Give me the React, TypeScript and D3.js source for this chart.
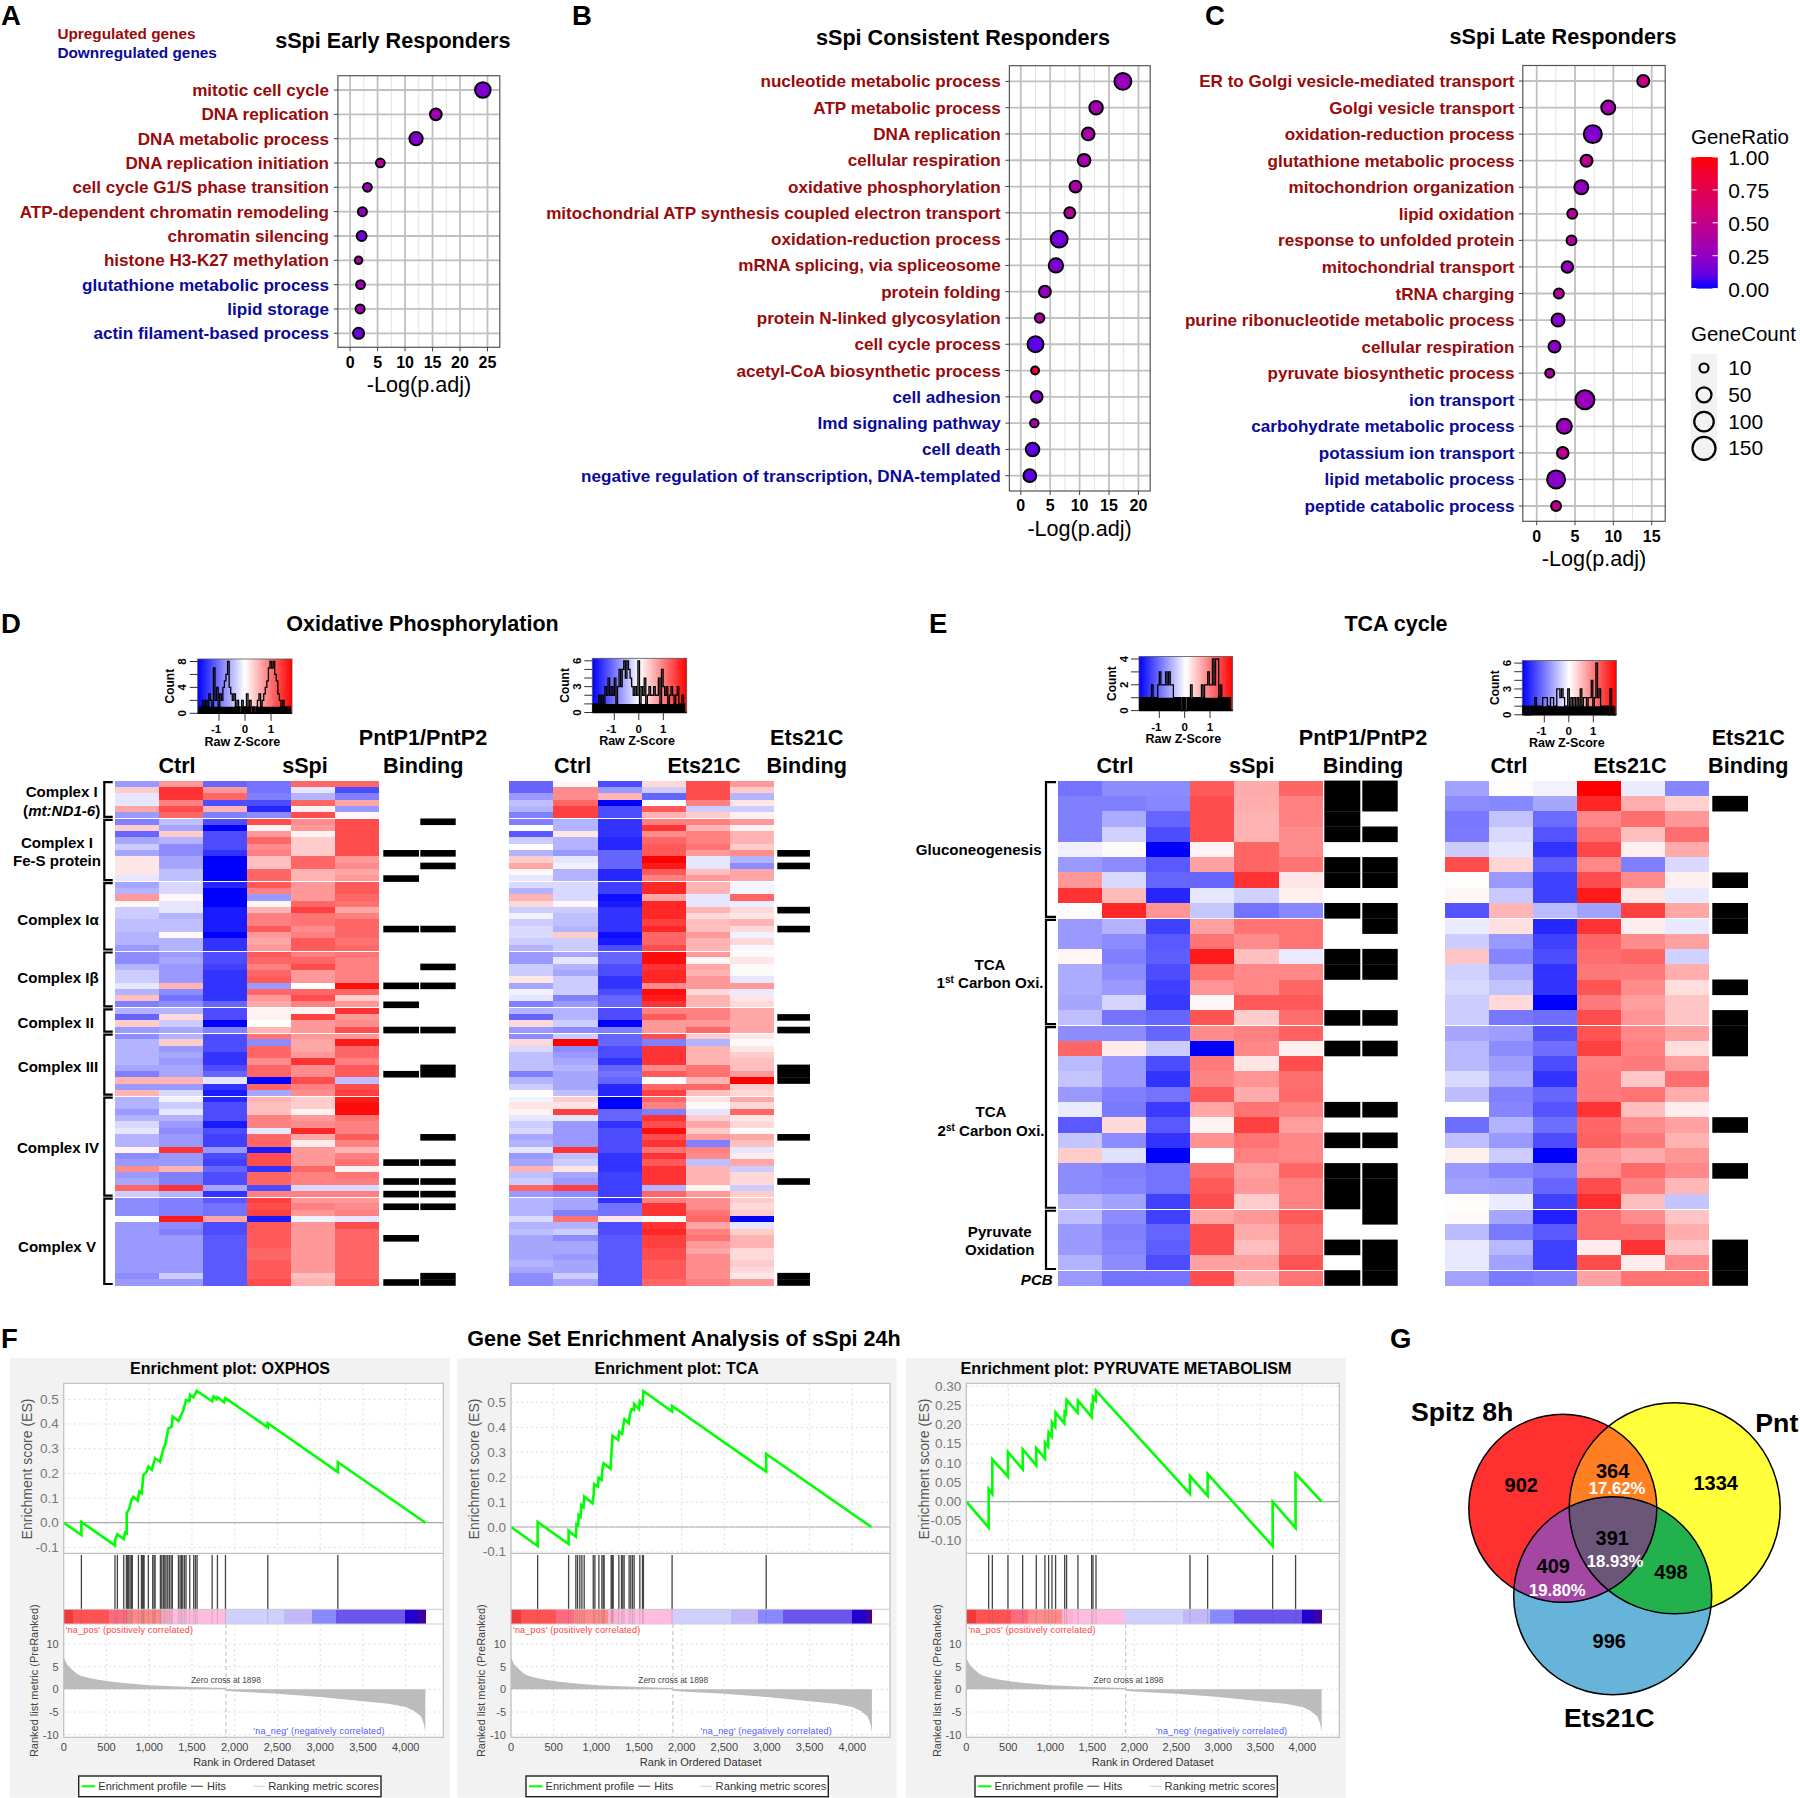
import React from "react";
import * as d3 from "d3";

const FONT = '"Liberation Sans", Arial, sans-serif';
const DARK_RED = "#990a0a";
const DARK_BLUE = "#0a0a99";

// ---------- Panels A-C: GO dot plots ----------
const aTerms = ["mitotic cell cycle","DNA replication","DNA metabolic process","DNA replication initiation","cell cycle G1/S phase transition","ATP-dependent chromatin remodeling","chromatin silencing","histone H3-K27 methylation","glutathione metabolic process","lipid storage","actin filament-based process"];
const aLog = [24.15,15.6,12,5.5,3.15,2.24,2.1,1.54,1.9,1.82,1.54];
const aCount = [55,24,35,9,9,10,14,5,9,10,20];
const aRatio = [0.18,0.33,0.2,0.42,0.3,0.25,0.15,0.38,0.3,0.32,0.13];
const aUpCount = 8;

const bTerms = ["nucleotide metabolic process","ATP metabolic process","DNA replication","cellular respiration","oxidative phosphorylation","mitochondrial ATP synthesis coupled electron transport","oxidation-reduction process","mRNA splicing, via spliceosome","protein folding","protein N-linked glycosylation","cell cycle process","acetyl-CoA biosynthetic process","cell adhesion","Imd signaling pathway","cell death","negative regulation of transcription, DNA-templated"];
const bLog = [17.36,12.8,11.46,10.76,9.3,8.33,6.53,5.97,4.1,3.2,2.5,2.43,2.7,2.3,2.0,1.53];
const bCount = [68,37,31,31,25,20,68,44,25,12,59,6,25,8,37,31];
const bRatio = [0.28,0.33,0.35,0.33,0.36,0.42,0.15,0.18,0.28,0.38,0.1,0.85,0.2,0.38,0.1,0.1];
const bUpCount = 12;

const cTerms = ["ER to Golgi vesicle-mediated transport","Golgi vesicle transport","oxidation-reduction process","glutathione metabolic process","mitochondrion organization","lipid oxidation","response to unfolded protein","mitochondrial transport","tRNA charging","purine ribonucleotide metabolic process","cellular respiration","pyruvate biosynthetic process","ion transport","carbohydrate metabolic process","potassium ion transport","lipid metabolic process","peptide catabolic process"];
const cLog = [13.9,9.33,7.32,6.5,5.82,4.64,4.54,4.0,2.89,2.78,2.32,1.7,6.29,3.6,3.4,2.53,2.53];
const cCount = [26,41,81,26,41,14,14,23,14,33,26,10,93,50,23,81,14];
const cRatio = [0.5,0.33,0.2,0.45,0.25,0.42,0.42,0.28,0.4,0.22,0.23,0.37,0.28,0.28,0.47,0.22,0.48];
const cUpCount = 12;

const ratioTicks = [1, 0.75, 0.5, 0.25, 0];
const countTicks = [10, 50, 100, 150];

// ---------- Panel D: heatmaps (80 genes) ----------
const d1Ctrl1 = [-4,2,-1,-1,3.5,-4,-5,2,-6,-3.5,-2,-3.5,1,1,1,-1,-3.5,-3,4,0.3,-2,-2,-2.5,-2.5,-3,-3,-4,-4.5,-4.5,-3,-2,-2,-1,-3,2.5,-5,-3,-6,2,-4,-4.5,-3,-3,-3,-3,-3.5,-5,3,-4,3,-3,-3,-4,-3,-1.5,-1,-3,-3,0.5,-4.5,-4,4.5,-4,-3.5,6,-2,-4.5,-4.5,-4.5,0,-4,-4,-4,-4,-4,-4,-4,-4,-4.5,-4];
const d1Ctrl2 = [4,8,8,5,7,6,-2.5,-3.5,2,-3,-4.5,-4.5,-3.5,-3.5,-2.5,-2.5,-1.5,-1.5,0.3,-1,-1,-3,-2.5,-2.5,0.2,-3,-3,-4,-3.5,-4,-4,-4,3,-4.5,-5.5,-4.5,-3,1.5,-2,-3.5,-3,2,-4,-3.5,-4,-3.5,-3.5,3,-4,-1.5,-0.5,-2,-1,-3,-4,-4.5,-4,-4,8,-4,-4,3,-5,-5,8,-3,-5,-5,-5,9,-4.5,-5,-4,-4,-4,-4,-4,-4,-2,-4];
const d1Ctrl3 = [-6,4,6,-7,3,-5,-7,-10,-7,-7,-7,-8,-10,-10,-10,-10,-8.5,-10,-10,-10,-9,-9,-9,-9,-10,-8,-8,-7,-7,-7.5,-8,-8,-8,-8,-8,-6,-7,-7,-10,-5,-7,-7,-7,-8,-8,-7,-6,-1,-8,-9,-8.5,-7,-7,-7,-9,-7,-7.5,-7.5,-4,-7,-7.5,-6,-7,-7,-3.5,-8,-6.5,-5.5,-5.5,3.5,-7,-7,-6.5,-6.5,-6.5,-6.5,-6.5,-6.5,-6.5,-6.5];
const d1Spi1 = [-5.5,-5.5,-5,-7,-8.5,-4.5,7,0.5,4,6,4.5,5,2.5,2.5,6,6,6.5,5,-4,0.3,3,5,5,6.5,4,3.5,4,6.5,6,5,6,6.5,-4,6,4,3.5,0.5,0.5,0,3,5.5,-4.5,6,6,4.5,6,6,-10,6,-3.5,3,2.5,2.5,5,5,-1,6,6,-9,7,7,-8,6,6,-7,5,7.5,7,7.5,-9,6.5,6.5,6.5,6.5,6,6,6.5,6.5,6.5,7];
const d1Spi2 = [6,-1,-3,6,0.5,7,4.5,4,0.5,2,2,2,6,6,3,3,4,4,4,6,7.5,5.5,5.5,4.5,5,6.5,6.5,5,6,7,4,4,0,6,7,5,0.5,7.5,4,4,4,3.5,3.5,4,8,4.5,4.5,7,5,4.5,2,2,0.5,4,4.5,8.5,3.5,0.8,4,4,4,6,5,5,-1.5,5,4,5,4,-0.5,4,4,4,4,4,4,4,4,2.5,3];
const d1Spi3 = [6,-7,-5,3.5,-4,0.3,7,7,7,7,7,7,4,4.5,3.5,4,6.5,6.5,6,5.5,3.5,5,6,6,6,5.5,6,5.5,5,5,5,5,9.5,6,2,4,8,4,4.5,7,4,9,6,6,5,6.5,6.5,-2.5,7,7.5,9,9.5,9.5,5.5,5,5,6.5,5,3,5,5.5,0.5,5.5,5,-1.5,5,4,4.5,5,-1,7,6,6,6,6,6,6,6,6,6.5];
const d2Ctrl1 = [-6,-6,-4,-2.5,-3,-5,-5,0,-6.5,-2,0,-3,2,3.5,0.3,-1,-1.5,-3,3,1.5,-2,-0.5,-2,-1.5,-1.5,-2,-3,-4,-4,-2,-2,1,-3.5,-0.5,-1,-5,-3,-6,1.5,-4,-4.5,1.5,-1.5,-2.5,-2.5,-2.5,-5,-3,-2,0,-0.5,1,0.5,-1,-2,-1.5,-3.5,-3,-1,-4,-3.5,3,-2.5,-2,6,-4,-3,-3,-3,-1.5,-3,-2.5,-3.5,-3.5,-3.5,-3.5,-3,-3.5,-4.5,-4.5];
const d2Ctrl2 = [0.3,4.5,4.5,6,7.5,7.5,-3,-3,1,-3,-3,-4,-1,-0.5,-3,-3,-1.5,-1.5,-1.5,0.3,-2,-2.5,-2.5,-3,2,-2,-2,-3.5,-1,-3,-3.5,-2,-2,-2,-5,-4,-3,-3,-2,-4.5,-2,10,-4.5,-4,-3.5,-3,-3.5,-3.5,-3.5,-2.5,2,1,7.5,-1,-4,-4,-4,-4,8,-2.5,-2,1,-3.5,-4,7.5,-4.5,-3.5,-3.5,-5,5.5,-3,-2,-4.5,-3.5,-3.5,-4,-3.5,-3.5,-2,-3.5];
const d2Ctrl3 = [-7,-4,3,-10,-7,-7,-8,-8,-8,-8.5,-8.5,-6,-6,-6,-8.5,-8.5,-7.5,-7.5,-9.5,-9,-8,-8,-8,-8,-9.5,-9,-7,-6,-6,-7,-7,-8,-8,-7,-6,-6,-7,-7,-10,-5,-6,-6,-7,-7,-8,-6,-5.5,-6,-8.5,-8.5,-10,-10,-6,-6,-8,-7,-7,-7,-7,-8,-8,-8,-7.5,-7.5,-7.5,-7.5,-8,-5.5,-5.5,1,-7,-7,-6.5,-6.5,-6.5,-6.5,-6.5,-6.5,-6.5,-6.5];
const d2Ets1 = [1.5,-2,-6,0,6.5,3,5,8,4.5,6,6.5,6.5,10,9,6.5,5,8.5,8.5,3.5,8.5,8.5,8.5,7.5,8.5,6,6,7,9.5,9.5,8,8.5,8.5,4.5,9.5,9,8,5,6.5,4,4,7,-5,8,8,8,4.5,6.5,0,6,7.5,6,5,-5,8,7,9.5,7,8,5.5,8,6.5,8,8,8,-3,6,5,8,8,0,8,8.5,7.5,7.5,7,7,6.5,6.5,6.5,6];
const d2Ets2 = [7,7,7,5,-2,2,5,3,5,5,5.5,4,-1,-1,2.5,4,3,3,-1,-1,3,1.5,2.5,2.5,4,3,3,4,0.3,3.5,3,4,4,1.5,3,3,5,5,4,6,2,-3,3,3,3,5.5,5.5,3,6,2.5,1,0.3,-1,2,3.5,2,4,-5,5,4.5,-2.5,3,3,3,0.5,4,4.5,4.5,5.5,6,3.5,5,5.5,4,3.5,4.5,4.5,4.5,4.5,5];
const d2Ets3 = [4,2,-3,1,-2,0.6,4,0.5,3,3,2,4.5,-3,-4.5,3.5,3.5,-0.4,-0.4,6,-0.7,1.5,1,3,1.5,-0.5,1.5,-0.3,0.2,1,0.2,0.2,-1,4,-0.8,1,1.5,3.5,3.5,3.5,3.5,1,0.2,1,2,2.5,2.5,4,10,2,1.5,3.5,1.5,6,1,1.5,0.2,3.5,2.5,-1,0.7,3.5,-2,1.5,1.5,-2,2,2,1.5,2,-10,-1,2,3,3,1.5,1.5,2,1.5,1,4];
const dGeneCount = 80;
const dGroups: [number, number][] = [[0,6],[6,16],[16,27],[27,36],[36,40],[40,50],[50,66],[66,80]];
const dGaps = [6,16,27,36,40,50,66];
const d1BindA = [11,15,23,32,35,39,46,60,63,65,67,72,79];
const d1BindB = [6,11,13,23,29,32,39,45,46,56,60,63,65,67,78,79];
const d2Bind = [11,13,20,23,37,39,45,46,47,56,63,78,79];

// ---------- Panel E: heatmaps (33 genes) ----------
const e1Ctrl1 = [-5.5,-5,-5,-5,-0.6,-4,4,8,0.1,-4,-4,0.4,-3.3,-3.3,-3.5,-2.5,-4.5,6,-2.7,-2.3,-4,-0.8,-6.5,-2.3,2,-4.5,-4.5,-3,-2.5,-4,-4,-3,-4];
const e1Ctrl2 = [-4.5,-5,-3.3,-1.8,0.2,-4.5,-1.5,2.7,8.5,-3,-4.5,-5,-4.5,-4,-1.7,-5.5,-4.5,0.8,-4,-4,-5,-5.2,1.5,-4.5,-1.2,-5,-4.8,-3.7,-4.5,-5,-4.8,-4.5,-5.5];
const e1Ctrl3 = [-4.5,-4.7,-6,-7,-10,-6.5,-6,-8.5,4.2,-7.5,-6.5,-6.3,-7,-7.5,-7.8,-6,-6,-2,-7,-8,-5.5,-7.7,-6.5,-8,-10,-5.5,-5.5,-7.5,-7.5,-6,-6.3,-7,-5.5];
const e1Spi1 = [6.5,7,7,7,0.5,3.7,-6,-1,-2.2,3.7,5.5,9,5.5,4.2,0.3,6.7,4.5,-10,5.2,4.8,6.5,3.5,0.5,4.3,0,5.7,6.5,7,3.5,7,7,3.7,7];
const e1Spi2 = [3.3,3.2,3,3,6,6,8,-1.8,-5.5,5.5,4.5,2.5,4.7,4.7,6.5,2,5,4.7,1,4.2,3.3,5.5,7.5,5.5,5,3.8,4,2,4,3.3,2.5,3.7,3];
const e1Spi3 = [6,5,5,4.5,4.5,5.5,1,0.6,-4.7,5.5,5.5,-0.8,4.7,6,6.5,5.7,6.2,0.6,7,5.7,5.8,5,3.8,4.7,4.7,6,5,5,6.5,5.7,5.7,6.7,5.5];
const e2Ctrl1 = [-3.7,-4.5,-5.3,-5.2,-2,7,0.1,0.3,-6.7,-0.8,-2,2.3,-1.8,-1.5,-2,-2,-3.5,-2.8,-2.8,-1.5,-2.6,0,-5.7,-2.5,0.6,-4,-3.7,0.1,0.2,-2.7,-0.9,-0.9,-3.6];
const e2Ctrl2 = [0.1,-4.7,-2.4,-1.5,-1,1.7,-4,-2.1,2.9,1.2,-4,-4.8,-3.2,-2.4,1.5,-5.3,-3.8,-4.5,-3.8,-3.3,-5,-4.8,-3,-4,-2,-4.8,-3.8,-0.8,-3.5,-5.2,-2.8,-3.7,-5.2];
const e2Ctrl3 = [-0.5,-3.5,-5.8,-6.7,-8,-6.3,-7.5,-7.5,-2.7,-8.5,-7.5,-7,-8,-8,-10,-5.7,-6.8,-5.7,-7,-8,-6,-6.7,-5.7,-7,-10,-5.3,-6,-7.5,-8.7,-6.5,-7.5,-7.5,-5];
const e2Ets1 = [10,8.5,4.7,5.7,7.2,4.7,7,9,-3.7,8,6,5.7,5.3,6.7,5.2,7,6.7,7.5,5,5.2,5.2,8,6,6.2,4,4.3,7,8.2,5.7,5.7,0.7,7,3.7];
const e2Ets2 = [-0.8,3.2,5.7,2.5,0.6,-5,4.5,1,7.5,0.7,4.5,6,5.2,4.5,3.8,4.2,4.7,5,5.2,2.2,5.5,2.5,4.5,5.2,3.3,5.8,4.8,2.6,4.5,5.7,8,0.7,5.5];
const e2Ets3 = [-4.8,1.8,4,5.7,3.3,-1.5,0.6,-0.9,3.5,-0.9,3.7,-1.8,3.2,1.3,2.3,2.3,3.7,1.3,3.8,5.7,3.2,0.7,3.7,3,4.2,4.7,2.8,-2.3,2.3,3.2,2.3,4.7,5.5];
const eGeneCount = 33;
const eGroups: [number, number][] = [[0,9],[9,16],[16,28],[28,32]];
const eGaps = [9,16,28,32];
const e1BindA = [0,1,2,3,5,6,8,11,12,15,17,21,23,25,26,27,30,32];
const e1BindB = [0,1,3,5,6,8,9,11,12,15,17,21,23,25,26,27,28,30,31,32];
const e2Bind = [1,6,8,9,13,15,16,17,22,25,30,31,32];

// ---------- colour-key histograms ----------
const histD1 = [0,1,1,2,1,2,1,3,2,1,7,2,4,1,3,2,4,5,6,8,4,3,2,3,1,2,1,0,2,1,1,3,1,2,0,1,0,1,2,3,1,2,3,4,5,7,8,7,8,6,5,3,2,1,2,1,1,0,1,0];
const histD2 = [1,1,1,1,2,1,2,1,3,2,4,2,3,2,4,1,3,5,3,5,6,4,6,5,4,3,2,3,2,6,1,3,2,4,1,2,3,2,2,3,2,2,4,1,5,3,2,3,1,2,3,2,1,2,3,1,1,2,1,1];
const histE1 = [1,1,1,1,1,1,1,1,2,1,1,1,2,3,2,2,2,3,2,3,2,2,1,1,1,1,1,0,1,1,0,1,1,2,1,1,1,1,1,1,2,1,2,2,3,2,2,4,2,4,4,1,2,1,1,1,1,1,1,1];
const histE2 = [1,1,0,1,0,1,1,1,2,1,1,1,1,2,2,2,1,1,2,2,1,1,3,3,2,3,2,1,1,3,1,2,1,2,1,2,1,3,1,2,2,1,2,2,4,1,2,6,2,3,1,1,1,1,1,0,3,1,0,1];

// ---------- Panel F: GSEA ----------
const oxRank = [0,207,207,600,600,628,702,718,737,737,768,792,815,866,885,913,932,971,990,1030,1069,1127,1166,1186,1225,1264,1275,1342,1400,1431,1470,1478,1517,1556,1736,1751,1790,1798,1876,1892,2387,2387,3206,3206,4232];
const oxES = [0,-0.05,0.003,-0.092,-0.07,-0.047,-0.066,-0.04,-0.043,0.038,0.058,0.092,0.105,0.089,0.126,0.119,0.193,0.207,0.227,0.214,0.261,0.247,0.301,0.315,0.382,0.389,0.43,0.412,0.457,0.497,0.493,0.518,0.508,0.534,0.492,0.511,0.5,0.509,0.488,0.505,0.386,0.403,0.205,0.245,0];
const oxHits = [207,600,628,702,733,745,760,776,792,803,874,909,920,932,940,990,1041,1057,1069,1131,1147,1166,1182,1197,1217,1236,1256,1271,1342,1361,1377,1392,1412,1431,1474,1521,1541,1560,1736,1798,1892,2387,3206];
const tcaRank = [0,312,312,675,675,760,768,788,792,815,823,850,858,955,971,975,1018,1026,1061,1069,1084,1166,1178,1190,1256,1268,1303,1314,1330,1381,1392,1412,1439,1443,1501,1509,1541,1552,1888,1888,2991,2991,4224];
const tcaES = [0,-0.076,0.02,-0.068,-0.015,-0.039,0.012,0.008,0.048,0.041,0.088,0.079,0.122,0.095,0.135,0.172,0.162,0.198,0.189,0.226,0.255,0.234,0.302,0.366,0.349,0.382,0.373,0.405,0.432,0.416,0.449,0.472,0.469,0.493,0.472,0.504,0.493,0.545,0.463,0.485,0.222,0.293,0];
const tcaHits = [312,675,760,780,807,831,858,964,983,1030,1065,1081,1092,1174,1182,1190,1197,1264,1295,1310,1326,1384,1404,1424,1443,1510,1541,1552,1888,2991];
const pyrRank = [0,266,266,310,310,496,496,671,671,833,833,936,936,972,980,1016,1020,1059,1063,1167,1171,1187,1194,1325,1329,1492,1492,1504,1508,1540,1544,2663,2663,2873,2873,3647,3647,3920,3920,4230];
const pyrES = [0,-0.067,0.033,0.02,0.11,0.065,0.129,0.084,0.136,0.094,0.139,0.112,0.153,0.143,0.18,0.169,0.206,0.194,0.231,0.203,0.238,0.231,0.264,0.231,0.262,0.22,0.248,0.245,0.271,0.262,0.288,0.02,0.067,0.015,0.072,-0.115,0,-0.068,0.073,0];
const pyrHits = [266,310,496,671,833,936,980,1020,1063,1171,1194,1329,1492,1508,1544,2663,2873,3647,3920];
const metricRank = [0,25,50,100,150,200,300,400,540,700,1000,1500,1897,1898,2000,2500,3000,3500,3800,4000,4100,4180,4210,4230];
const metricVal = [7.1,6.0,5.2,4.3,3.5,3.0,2.5,2.1,1.75,1.4,0.9,0.5,0.3,-0.3,-0.45,-0.95,-1.7,-2.6,-3.2,-3.9,-4.8,-6,-7.4,-9.4];
const stripEdges = [0,113,530,737,1139,1271,1895,2578,2900,3182,3993,4157,4230];
const stripColors = ["#ee3a3a","#ff5252","#ff6a80","#ff8a8a","#ffb0d0","#ffbbe0","#d0d0ff","#c0b8f8","#8888ff","#6a55ee","#2200cc","#440099"];
const rankTicks = [0,500,1000,1500,2000,2500,3000,3500,4000];
const metricTicks = [10,5,0,-5,-10];
const esTicksA = [0.5,0.4,0.3,0.2,0.1,0,-0.1];
const esTicksB = [0.3,0.25,0.2,0.15,0.1,0.05,0,-0.05,-0.1];

// ---------- Panel G: Venn ----------
const vennCounts = ["902","1334","996","364","409","498","391"];
const vennPercents = ["17.62%","19.80%","18.93%"];
const vennSets = ["Spitz 8h","Pnt","Ets21C"];

// ---------- shared helpers ----------
const ratioColor = d3.scaleSequential(d3.interpolateLab("#0000ff", "#ff0000")).domain([0, 1]);
const sizeScale = d3.scalePow().exponent(0.5).domain([10, 150]).range([5.5, 12.5]);
const heatColor = d3.scaleLinear<string>().domain([-10, 0, 10]).range(["#0000ff", "#ffffff", "#ff0000"]).clamp(true);

type TProps = React.SVGProps<SVGTextElement>;
const T = (p: TProps & { children?: React.ReactNode }) => <text fontFamily={FONT} {...p} />;

function DotPlot(p: {
  title: string; titleX: number; titleY: number;
  terms: string[]; log: number[]; count: number[]; ratio: number[]; upCount: number;
  left: number; right: number; top: number; bottom: number;
  x0: number; xMax: number; xMaxPx: number; yFirst: number; yLast: number;
  ticks: number[]; labelRight: number; tickY: number; axisX: number; axisY: number;
}) {
  const x = d3.scaleLinear().domain([0, p.xMax]).range([p.x0, p.xMaxPx]);
  const y = d3.scalePoint<number>().domain(p.terms.map((_, i) => i)).range([p.yFirst, p.yLast]);
  const step = p.ticks[1] - p.ticks[0];
  const minor = p.ticks.map((t) => t + step / 2).filter((v) => x(v) < p.right);
  return (
    <g>
      <T x={p.titleX} y={p.titleY} textAnchor="middle" fontSize={21.6} fontWeight="bold">{p.title}</T>
      {minor.map((m) => <line key={m} x1={x(m)} x2={x(m)} y1={p.top} y2={p.bottom} stroke="#e2e2e2" strokeWidth={1} />)}
      {p.ticks.map((t) => <line key={t} x1={x(t)} x2={x(t)} y1={p.top} y2={p.bottom} stroke="#c0c0c0" strokeWidth={1.8} />)}
      {p.terms.map((_, i) => <line key={i} x1={p.left} x2={p.right} y1={y(i)} y2={y(i)} stroke="#c0c0c0" strokeWidth={1.8} />)}
      <rect x={p.left} y={p.top} width={p.right - p.left} height={p.bottom - p.top} fill="none" stroke="#555" strokeWidth={1.2} />
      {p.terms.map((term, i) => (
        <g key={term}>
          <line x1={p.left - 4} x2={p.left} y1={y(i)} y2={y(i)} stroke="#444" strokeWidth={1} />
          <T x={p.labelRight} y={(y(i) as number) + 6} textAnchor="end" fontSize={17.1} fontWeight="bold" fill={i < p.upCount ? DARK_RED : DARK_BLUE}>{term}</T>
        </g>
      ))}
      {p.terms.map((_, i) => (
        <circle key={i} cx={x(p.log[i])} cy={y(i)} r={sizeScale(p.count[i]) - 1} fill={ratioColor(p.ratio[i])} stroke="#000" strokeWidth={2} />
      ))}
      {p.ticks.map((t) => (
        <g key={t}>
          <line x1={x(t)} x2={x(t)} y1={p.bottom} y2={p.bottom + 4} stroke="#444" strokeWidth={1} />
          <T x={x(t)} y={p.tickY} textAnchor="middle" fontSize={16} fontWeight="bold">{t}</T>
        </g>
      ))}
      <T x={p.axisX} y={p.axisY} textAnchor="middle" fontSize={21.6}>-Log(p.adj)</T>
    </g>
  );
}

function DotLegend() {
  const barY = d3.scaleLinear().domain([0, 1]).range([288.6, 157]);
  const stops = d3.range(0, 1.001, 0.1);
  const labY = d3.scaleLinear().domain([0, 1]).range([290.4, 158]);
  const rowY = d3.scalePoint<number>().domain(countTicks).range([368, 448.4]);
  return (
    <g>
      <defs>
        <linearGradient id="ratioGrad" x1="0" x2="0" y1="1" y2="0">
          {stops.map((s) => <stop key={s} offset={s} stopColor={ratioColor(s)} />)}
        </linearGradient>
      </defs>
      <T x={1691} y={144} fontSize={20.5}>GeneRatio</T>
      <rect x={1691.3} y={barY(1)} width={26.5} height={barY(0) - barY(1)} fill="url(#ratioGrad)" />
      {ratioTicks.map((t) => (
        <g key={t}>
          <line x1={1691.3} x2={1696.5} y1={barY(t)} y2={barY(t)} stroke="#fff" strokeWidth={1} />
          <line x1={1712.6} x2={1717.8} y1={barY(t)} y2={barY(t)} stroke="#fff" strokeWidth={1} />
          <T x={1728.2} y={labY(t) + 6.5} fontSize={21}>{t.toFixed(2)}</T>
        </g>
      ))}
      <T x={1691} y={341} fontSize={20.5}>GeneCount</T>
      <rect x={1691} y={354} width={26} height={107} fill="#f2f2f2" />
      {countTicks.map((c) => (
        <g key={c}>
          <circle cx={1704} cy={rowY(c)} r={sizeScale(c) - 1} fill="#f2f2f2" stroke="#000" strokeWidth={2.2} />
          <T x={1728.2} y={(rowY(c) as number) + 7} fontSize={21}>{c}</T>
        </g>
      ))}
    </g>
  );
}

function Heatmap(p: { columns: number[][]; left: number; right: number; top: number; bottom: number; n: number; gaps: number[] }) {
  const x = d3.scaleBand<number>().domain(p.columns.map((_, i) => i)).range([p.left, p.right]);
  const y = d3.scaleLinear().domain([0, p.n]).range([p.top, p.bottom]);
  return (
    <g shapeRendering="crispEdges">
      {p.columns.map((col, c) => col.map((v, r) => (
        <rect key={c + "-" + r} x={x(c)} y={y(r)} width={x.bandwidth() + 0.4} height={y(r + 1) - y(r) + 0.4} fill={heatColor(v)} />
      )))}
      {p.gaps.map((g) => <line key={g} x1={p.left} x2={p.right + 0.5} y1={y(g)} y2={y(g)} stroke="#fff" strokeWidth={1} />)}
    </g>
  );
}

function Binding(p: { rows: number[]; left: number; right: number; top: number; bottom: number; n: number }) {
  const y = d3.scaleLinear().domain([0, p.n]).range([p.top, p.bottom]);
  return (
    <g>
      {p.rows.map((r) => <rect key={r} x={p.left} y={y(r)} width={p.right - p.left} height={y(r + 1) - y(r) + 0.3} fill="#000" />)}
    </g>
  );
}

function Brackets(p: { groups: [number, number][]; spine: number; tip: number; top: number; bottom: number; n: number }) {
  const y = d3.scaleLinear().domain([0, p.n]).range([p.top, p.bottom]);
  return (
    <g fill="none" stroke="#000" strokeWidth={2.2}>
      {p.groups.map(([a, b]) => (
        <path key={a} d={`M${p.tip},${y(a) + 1.5}H${p.spine}V${y(b) - 1.5}H${p.tip}`} />
      ))}
    </g>
  );
}

function ColorKey(p: { id: string; left: number; right: number; top: number; bottom: number; tickLo: number; tickHi: number; hist: number[]; yMax: number; yTicks: number[] }) {
  const x = d3.scaleLinear().domain([-1, 1]).range([p.tickLo, p.tickHi]);
  const y = d3.scaleLinear().domain([0, p.yMax]).range([p.bottom, p.top + 2.5]);
  const bx = d3.scaleLinear().domain([0, p.hist.length]).range([p.left, p.right]);
  const line = d3.line<number>().x((_, i) => bx(i)).y((d) => y(d)).curve(d3.curveStepAfter);
  const base = d3.area<number>().x((_, i) => bx(i)).y0(p.bottom).y1((d) => y(Math.min(d, 1))).curve(d3.curveStepAfter);
  const labelled = p.yTicks.filter((_, i) => i === 0 || i === p.yTicks.length - 1 || i === (p.yTicks.length - 1) / 2);
  return (
    <g>
      <defs>
        <linearGradient id={p.id}>
          <stop offset="0" stopColor="#0000ff" />
          <stop offset="0.5" stopColor="#ffffff" />
          <stop offset="1" stopColor="#ff0000" />
        </linearGradient>
      </defs>
      <rect x={p.left} y={p.top} width={p.right - p.left} height={p.bottom - p.top} fill={`url(#${p.id})`} stroke="#555" strokeWidth={0.8} />
      <path d={base(p.hist) as string} fill="#000" />
      <path d={line(p.hist) as string} fill="none" stroke="#000" strokeWidth={1.3} />
      <line x1={p.left} x2={p.right} y1={p.bottom} y2={p.bottom} stroke="#000" strokeWidth={1.5} />
      {p.yTicks.map((t) => <line key={t} x1={p.left - 8} x2={p.left} y1={y(t)} y2={y(t)} stroke="#333" strokeWidth={1} />)}
      {labelled.map((t) => (
        <T key={t} transform={`translate(${p.left - 11.5},${y(t)}) rotate(-90)`} textAnchor="middle" fontSize={11.5} fontWeight="bold">{t}</T>
      ))}
      <T transform={`translate(${p.left - 23.5},${(p.top + p.bottom) / 2}) rotate(-90)`} textAnchor="middle" fontSize={12} fontWeight="bold">Count</T>
      {[-1, 0, 1].map((t) => (
        <g key={t}>
          <line x1={x(t)} x2={x(t)} y1={p.bottom} y2={p.bottom + 7.5} stroke="#333" strokeWidth={1} />
          <T x={x(t) - (t < 0 ? 3 : 0)} y={p.bottom + 20} textAnchor="middle" fontSize={11.5} fontWeight="bold">{t}</T>
        </g>
      ))}
      <T x={(p.left + p.right) / 2 - 2.5} y={p.bottom + 32.5} textAnchor="middle" fontSize={12.5} fontWeight="bold">Raw Z-Score</T>
    </g>
  );
}

const Head = (p: { x: number; y: number; children: React.ReactNode }) => (
  <T x={p.x} y={p.y} textAnchor="middle" fontSize={21.6} fontWeight="bold">{p.children}</T>
);

const Lbl = (p: { x: number; y: number; anchor?: string; italic?: boolean; children: React.ReactNode }) => (
  <T x={p.x} y={p.y} textAnchor={(p.anchor || "middle") as any} fontSize={15.1} fontWeight="bold" fontStyle={p.italic ? "italic" : "normal"}>{p.children}</T>
);

function Gsea(p: {
  title: string; titleSize: number; titleX: number; bgL: number; bgR: number; left: number; right: number; x4000: number;
  esRefVal: number; esRefY: number; es0: number; esTicks: number[]; esDigits: number;
  rank: number[]; es: number[]; hits: number[]; esTitleX: number; metricTitleX: number;
  xLabelX: number; legendX: number;
}) {
  const TOP = 1383.3, ESB = 1553.3, HIT0 = 1555, STRIP0 = 1609.3, STRIP1 = 1624, BOT = 1737.3;
  const x = d3.scaleLinear().domain([0, 4000]).range([p.left, p.x4000]);
  const yE = d3.scaleLinear().domain([0, p.esRefVal]).range([p.es0, p.esRefY]);
  const yM = d3.scaleLinear().domain([-10, 10]).range([1734.7, 1644]);
  const esLine = d3.line<number>().x((r) => x(r)).y((_, i) => yE(p.es[i]));
  const metricArea = d3.area<number>().x((r) => x(r)).y0(yM(0)).y1((_, i) => yM(metricVal[i]));
  const dash = "2 3";
  return (
    <g>
      <rect x={p.bgL} y={1358.3} width={p.bgR - p.bgL} height={439.4} fill="#f2f2f2" />
      <T x={p.titleX} y={1374.3} textAnchor="middle" fontSize={p.titleSize} fontWeight="bold">{p.title}</T>
      <rect x={p.left} y={TOP} width={p.right - p.left} height={BOT - TOP} fill="#fff" />
      {rankTicks.map((t) => (
        <g key={t}>
          <line x1={x(t)} x2={x(t)} y1={TOP} y2={ESB} stroke="#ddd" strokeDasharray={dash} />
          <line x1={x(t)} x2={x(t)} y1={STRIP1} y2={BOT} stroke="#ddd" strokeDasharray={dash} />
        </g>
      ))}
      {p.esTicks.map((t) => <line key={t} x1={p.left} x2={p.right} y1={yE(t)} y2={yE(t)} stroke="#ddd" strokeDasharray={dash} />)}
      {metricTicks.map((t) => <line key={t} x1={p.left} x2={p.right} y1={yM(t)} y2={yM(t)} stroke="#ddd" strokeDasharray={dash} />)}
      <line x1={p.left} x2={p.right} y1={yE(0)} y2={yE(0)} stroke="#aaa" strokeWidth={1.2} />
      <path d={esLine(p.rank) as string} fill="none" stroke="#00ff00" strokeWidth={2.6} strokeLinejoin="miter" />
      {stripColors.map((c, i) => (
        <rect key={i} x={x(stripEdges[i])} y={STRIP0} width={x(stripEdges[i + 1]) - x(stripEdges[i]) + 0.3} height={STRIP1 - STRIP0} fill={c} shapeRendering="crispEdges" />
      ))}
      {p.hits.map((h) => (
        <g key={h}>
          <line x1={x(h)} x2={x(h)} y1={HIT0} y2={STRIP0} stroke="#444" strokeWidth={1.3} />
          <line x1={x(h)} x2={x(h)} y1={STRIP0} y2={STRIP1} stroke="#555" strokeWidth={1} opacity={0.2} />
        </g>
      ))}
      <path d={metricArea(metricRank) as string} fill="#bcbcbc" />
      <line x1={x(1898)} x2={x(1898)} y1={STRIP1} y2={BOT} stroke="#bbb" strokeDasharray="4 3" />
      <T x={p.left + 2} y={1632.7} fontSize={9} fill="#ff4040" letterSpacing={0.2}>'na_pos' (positively correlated)</T>
      <T x={p.left + 189.6} y={1733.7} fontSize={9} fill="#5555ff" letterSpacing={0.2}>'na_neg' (negatively correlated)</T>
      <T x={p.left + 127.3} y={1683.3} fontSize={8.4} fill="#444">Zero cross at 1898</T>
      <rect x={p.left} y={TOP} width={p.right - p.left} height={BOT - TOP} fill="none" stroke="#c0c0c0" strokeWidth={1.2} />
      <line x1={p.left} x2={p.right} y1={ESB} y2={ESB} stroke="#c0c0c0" strokeWidth={1.2} />
      <line x1={p.left} x2={p.right} y1={STRIP0} y2={STRIP0} stroke="#ccc" />
      <line x1={p.left} x2={p.right} y1={STRIP1} y2={STRIP1} stroke="#ccc" />
      {p.esTicks.map((t) => (
        <T key={t} x={p.left - 5} y={yE(t) + 4.5} textAnchor="end" fontSize={13.5} fill="#777">{t.toFixed(p.esDigits)}</T>
      ))}
      {metricTicks.map((t) => (
        <T key={t} x={p.left - 5} y={yM(t) + 4} textAnchor="end" fontSize={11} fill="#555">{t}</T>
      ))}
      {rankTicks.map((t) => (
        <T key={t} x={x(t)} y={1751} textAnchor="middle" fontSize={11} fill="#444">{d3.format(",")(t)}</T>
      ))}
      <T transform={`translate(${p.esTitleX},1469) rotate(-90)`} textAnchor="middle" fontSize={14} fill="#555">Enrichment score (ES)</T>
      <T transform={`translate(${p.metricTitleX},1680.7) rotate(-90)`} textAnchor="middle" fontSize={11} fill="#444">Ranked list metric (PreRanked)</T>
      <T x={p.xLabelX} y={1765.7} textAnchor="middle" fontSize={11} fill="#333">Rank in Ordered Dataset</T>
      <g transform={`translate(${p.legendX},0)`}>
        <rect x={0} y={1776} width={302.3} height={20.7} fill="#fff" stroke="#222" strokeWidth={1.4} />
        <line x1={3} x2={16.5} y1={1786.3} y2={1786.3} stroke="#00ff00" strokeWidth={2} />
        <T x={19.6} y={1789.6} fontSize={11} fill="#333">Enrichment profile</T>
        <line x1={112.3} x2={124.3} y1={1786.3} y2={1786.3} stroke="#666" strokeWidth={1.3} />
        <T x={128.3} y={1789.6} fontSize={11} fill="#333">Hits</T>
        <line x1={174.3} x2={186.3} y1={1786.3} y2={1786.3} stroke="#ddd" strokeWidth={1.3} />
        <T x={189.6} y={1789.6} fontSize={11.2} fill="#333">Ranking metric scores</T>
      </g>
    </g>
  );
}

function Venn() {
  const A = { cx: 1562.8, cy: 1508.3, r: 94 };
  const B = { cx: 1674.7, cy: 1508.3, r: 105.5 };
  const C = { cx: 1612.7, cy: 1595.7, r: 99 };
  const cir = (c: any, extra: any = {}) => <circle cx={c.cx} cy={c.cy} r={c.r} {...extra} />;
  const N = (p: { x: number; y: number; children: React.ReactNode; white?: boolean }) => (
    <T x={p.x} y={p.y} textAnchor="middle" fontWeight="bold" fontSize={p.white ? 16.7 : 20} fill={p.white ? "#fff" : "#000"}>{p.children}</T>
  );
  return (
    <g>
      <defs>
        <clipPath id="vA">{cir(A)}</clipPath>
        <clipPath id="vB">{cir(B)}</clipPath>
        <clipPath id="vC">{cir(C)}</clipPath>
      </defs>
      {cir(A, { fill: "#ff3030" })}
      {cir(B, { fill: "#ffff3c" })}
      {cir(C, { fill: "#67b4db" })}
      <g clipPath="url(#vA)">{cir(B, { fill: "#ff7f22" })}</g>
      <g clipPath="url(#vA)">{cir(C, { fill: "#a347a3" })}</g>
      <g clipPath="url(#vB)">{cir(C, { fill: "#22b14c" })}</g>
      <g clipPath="url(#vA)"><g clipPath="url(#vB)">{cir(C, { fill: "#6b5579" })}</g></g>
      {[A, B, C].map((c, i) => <React.Fragment key={i}>{cir(c, { fill: "none", stroke: "#000", strokeWidth: 1.5 })}</React.Fragment>)}
      <N x={1521.3} y={1491.7}>{vennCounts[0]}</N>
      <N x={1715.7} y={1490}>{vennCounts[1]}</N>
      <N x={1609.3} y={1648.3}>{vennCounts[2]}</N>
      <N x={1612.7} y={1477.7}>{vennCounts[3]}</N>
      <N x={1553.3} y={1573.3}>{vennCounts[4]}</N>
      <N x={1671} y={1579.3}>{vennCounts[5]}</N>
      <N x={1612.3} y={1545}>{vennCounts[6]}</N>
      <N x={1617} y={1494} white>{vennPercents[0]}</N>
      <N x={1557.3} y={1596} white>{vennPercents[1]}</N>
      <N x={1615} y={1567.3} white>{vennPercents[2]}</N>
      <T x={1411} y={1421} fontSize={26.7} fontWeight="bold">{vennSets[0]}</T>
      <T x={1755.3} y={1431.7} fontSize={26.7} fontWeight="bold">{vennSets[1]}</T>
      <T x={1609.3} y={1726.7} textAnchor="middle" fontSize={26.7} fontWeight="bold">{vennSets[2]}</T>
    </g>
  );
}

const HM_TOP = 780.6;
const HM_BOT = 1285.5;

export default function App() {
  return (
    <svg width={1800} height={1798} viewBox="0 0 1800 1798" style={{ position: "absolute", left: 0, top: 0, background: "#fff" }}>
      {/* panel letters */}
      {[["A",1,25],["B",572,25],["C",1205,25],["D",1,633],["E",929,633],["F",1,1348],["G",1390,1348]].map(([s, x, y]) => (
        <T key={s as string} x={x as number} y={y as number} fontSize={27.5} fontWeight="bold">{s}</T>
      ))}

      <T x={57.4} y={39.3} fontSize={15.35} fontWeight="bold" fill={DARK_RED}>Upregulated genes</T>
      <T x={57.4} y={58} fontSize={15.35} fontWeight="bold" fill={DARK_BLUE}>Downregulated genes</T>

      <DotPlot title="sSpi Early Responders" titleX={392.8} titleY={48.3} terms={aTerms} log={aLog} count={aCount} ratio={aRatio} upCount={aUpCount}
        left={337.9} right={499.8} top={75.7} bottom={347.3} x0={350.1} xMax={25} xMaxPx={487.5} yFirst={90} yLast={333.3}
        ticks={[0,5,10,15,20,25]} labelRight={329} tickY={367.7} axisX={419} axisY={391.7} />
      <DotPlot title="sSpi Consistent Responders" titleX={963} titleY={44.6} terms={bTerms} log={bLog} count={bCount} ratio={bRatio} upCount={bUpCount}
        left={1009.4} right={1150.2} top={65.7} bottom={491} x0={1020.8} xMax={20} xMaxPx={1138.4} yFirst={81.4} yLast={475.7}
        ticks={[0,5,10,15,20]} labelRight={1000.8} tickY={510.7} axisX={1079.6} axisY={535.7} />
      <DotPlot title="sSpi Late Responders" titleX={1563} titleY={43.7} terms={cTerms} log={cLog} count={cCount} ratio={cRatio} upCount={cUpCount}
        left={1522.8} right={1665.2} top={65.5} bottom={521.3} x0={1536.7} xMax={15} xMaxPx={1651.7} yFirst={81} yLast={506}
        ticks={[0,5,10,15]} labelRight={1514.5} tickY={542.4} axisX={1594} axisY={566} />
      <DotLegend />

      {/* Panel D */}
      <T x={422.5} y={630.5} textAnchor="middle" fontSize={21.5} fontWeight="bold">Oxidative Phosphorylation</T>
      <ColorKey id="kD1" left={197.7} right={292} top={659} bottom={713.3} tickLo={219} tickHi={271} hist={histD1} yMax={8} yTicks={[0,2,4,6,8]} />
      <ColorKey id="kD2" left={592.3} right={686.7} top={658.3} bottom={712.5} tickLo={614.3} tickHi={663.3} hist={histD2} yMax={6} yTicks={[0,1,2,3,4,5,6]} />
      <Head x={177} y={772.5}>Ctrl</Head>
      <Head x={305} y={772.5}>sSpi</Head>
      <Head x={423} y={745}>PntP1/PntP2</Head>
      <Head x={423.3} y={772.5}>Binding</Head>
      <Head x={572.7} y={772.5}>Ctrl</Head>
      <Head x={704} y={772.5}>Ets21C</Head>
      <Head x={806.7} y={745}>Ets21C</Head>
      <Head x={806.7} y={772.5}>Binding</Head>
      <Brackets groups={dGroups} spine={104.3} tip={112.7} top={HM_TOP} bottom={HM_BOT} n={dGeneCount} />
      <Heatmap columns={[d1Ctrl1,d1Ctrl2,d1Ctrl3,d1Spi1,d1Spi2,d1Spi3]} left={115} right={379} top={HM_TOP} bottom={HM_BOT} n={dGeneCount} gaps={dGaps} />
      <Binding rows={d1BindA} left={383.3} right={419} top={HM_TOP} bottom={HM_BOT} n={dGeneCount} />
      <Binding rows={d1BindB} left={420.3} right={455.7} top={HM_TOP} bottom={HM_BOT} n={dGeneCount} />
      <Heatmap columns={[d2Ctrl1,d2Ctrl2,d2Ctrl3,d2Ets1,d2Ets2,d2Ets3]} left={509.3} right={774} top={HM_TOP} bottom={HM_BOT} n={dGeneCount} gaps={dGaps} />
      <Binding rows={d2Bind} left={777.3} right={810} top={HM_TOP} bottom={HM_BOT} n={dGeneCount} />
      <Lbl x={61.7} y={797.4}>Complex I</Lbl>
      <Lbl x={61.7} y={815.8}>(<tspan fontStyle="italic">mt:ND1-6</tspan>)</Lbl>
      <Lbl x={57} y={848}>Complex I</Lbl>
      <Lbl x={57} y={866.3}>Fe-S protein</Lbl>
      <Lbl x={58} y={925}>Complex Iα</Lbl>
      <Lbl x={58} y={983}>Complex Iβ</Lbl>
      <Lbl x={55.7} y={1027.5}>Complex II</Lbl>
      <Lbl x={58} y={1071.5}>Complex III</Lbl>
      <Lbl x={58} y={1153}>Complex IV</Lbl>
      <Lbl x={57} y={1252}>Complex V</Lbl>

      {/* Panel E */}
      <T x={1396} y={630.5} textAnchor="middle" fontSize={21.5} fontWeight="bold">TCA cycle</T>
      <ColorKey id="kE1" left={1139} right={1232.7} top={656.5} bottom={710.6} tickLo={1159.3} tickHi={1210} hist={histE1} yMax={4} yTicks={[0,1,2,3,4]} />
      <ColorKey id="kE2" left={1522.3} right={1616.3} top={660.6} bottom={714.8} tickLo={1544.3} tickHi={1593.3} hist={histE2} yMax={6} yTicks={[0,1,2,3,4,5,6]} />
      <Head x={1115} y={772.5}>Ctrl</Head>
      <Head x={1251.7} y={772.5}>sSpi</Head>
      <Head x={1363} y={745}>PntP1/PntP2</Head>
      <Head x={1363} y={772.5}>Binding</Head>
      <Head x={1509} y={772.5}>Ctrl</Head>
      <Head x={1630} y={772.5}>Ets21C</Head>
      <Head x={1748.3} y={745}>Ets21C</Head>
      <Head x={1748.3} y={772.5}>Binding</Head>
      <Brackets groups={eGroups} spine={1046} tip={1056} top={HM_TOP} bottom={HM_BOT - 15} n={eGeneCount - 1} />
      <Heatmap columns={[e1Ctrl1,e1Ctrl2,e1Ctrl3,e1Spi1,e1Spi2,e1Spi3]} left={1057.7} right={1322.7} top={HM_TOP} bottom={HM_BOT} n={eGeneCount} gaps={eGaps} />
      <Binding rows={e1BindA} left={1324.3} right={1360.3} top={HM_TOP} bottom={HM_BOT} n={eGeneCount} />
      <Binding rows={e1BindB} left={1362.3} right={1397.7} top={HM_TOP} bottom={HM_BOT} n={eGeneCount} />
      <Heatmap columns={[e2Ctrl1,e2Ctrl2,e2Ctrl3,e2Ets1,e2Ets2,e2Ets3]} left={1445} right={1709} top={HM_TOP} bottom={HM_BOT} n={eGeneCount} gaps={eGaps} />
      <Binding rows={e2Bind} left={1712.3} right={1748} top={HM_TOP} bottom={HM_BOT} n={eGeneCount} />
      <Lbl x={978.7} y={855}>Gluconeogenesis</Lbl>
      <Lbl x={990} y={969.6}>TCA</Lbl>
      <Lbl x={990} y={988}>1<tspan fontSize={10} dy={-5}>st</tspan><tspan dy={5}> Carbon Oxi.</tspan></Lbl>
      <Lbl x={991} y={1117.4}>TCA</Lbl>
      <Lbl x={991} y={1136}>2<tspan fontSize={10} dy={-5}>st</tspan><tspan dy={5}> Carbon Oxi.</tspan></Lbl>
      <Lbl x={999.7} y={1236.8}>Pyruvate</Lbl>
      <Lbl x={999.7} y={1254.7}>Oxidation</Lbl>
      <Lbl x={1052.7} y={1284.6} anchor="end" italic>PCB</Lbl>

      {/* Panel F */}
      <T x={684} y={1346} textAnchor="middle" fontSize={21.6} fontWeight="bold">Gene Set Enrichment Analysis of sSpi 24h</T>
      <Gsea title="Enrichment plot: OXPHOS" titleSize={16} titleX={230} bgL={10} bgR={450} left={63.7} right={443.3} x4000={405.7}
        esRefVal={0.5} esRefY={1399.3} es0={1522.7} esTicks={esTicksA} esDigits={1} rank={oxRank} es={oxES} hits={oxHits}
        esTitleX={32.3} metricTitleX={38.3} xLabelX={254} legendX={78.7} />
      <Gsea title="Enrichment plot: TCA" titleSize={16} titleX={676.7} bgL={457.3} bgR={896.7} left={511} right={890} x4000={852.3}
        esRefVal={0.5} esRefY={1402.3} es0={1527} esTicks={esTicksA} esDigits={1} rank={tcaRank} es={tcaES} hits={tcaHits}
        esTitleX={479} metricTitleX={485} xLabelX={700.7} legendX={526} />
      <Gsea title="Enrichment plot: PYRUVATE METABOLISM" titleSize={16.2} titleX={1126} bgL={906} bgR={1346} left={966.3} right={1339.3} x4000={1302.3}
        esRefVal={0.3} esRefY={1386} es0={1501.7} esTicks={esTicksB} esDigits={2} rank={pyrRank} es={pyrES} hits={pyrHits}
        esTitleX={929.3} metricTitleX={940.7} xLabelX={1152.7} legendX={975} />

      {/* Panel G */}
      <Venn />
    </svg>
  );
}
